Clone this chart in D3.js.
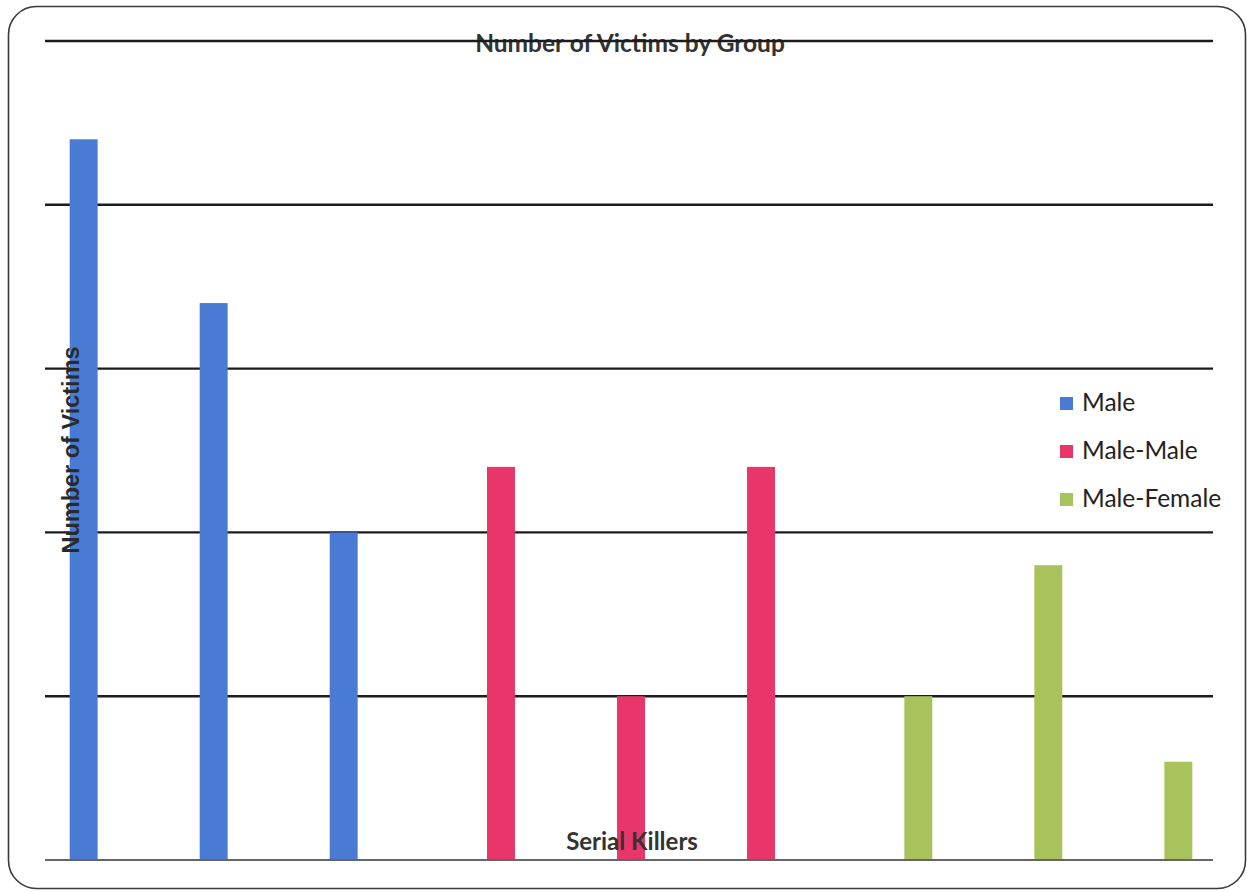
<!DOCTYPE html>
<html>
<head>
<meta charset="utf-8">
<script src="https://cdn.jsdelivr.net/npm/d3@7"></script>
<style>
  html, body { margin: 0; padding: 0; background: #fff; }
  svg { display: block; }
</style>
</head>
<body>
<svg id="chart" width="1247" height="892"></svg>
<script>
// Victim counts per serial killer, grouped by killer type
const groups = ["Male", "Male-Male", "Male-Female"];
const maleVictims = [22, 17, 10];
const maleMaleVictims = [12, 5, 12];
const maleFemaleVictims = [5, 9, 3];
const yTicks = [0, 5, 10, 15, 20, 25];
const groupColors = ["#4a7bd4", "#e8366b", "#a9c35c"];

const seriesValues = [maleVictims, maleMaleVictims, maleFemaleVictims];
const bars = [];
groups.forEach((g, gi) => seriesValues[gi].forEach((v, i) => bars.push({ group: g, idx: i, value: v })));

const svg = d3.select("#chart");

// Rounded frame around the chart
svg.append("rect")
  .attr("x", 8.5).attr("y", 6.5)
  .attr("width", 1237).attr("height", 882)
  .attr("rx", 28).attr("ry", 28)
  .attr("fill", "#fff")
  .attr("stroke", "#3a3a3a").attr("stroke-width", 1.6);

const plotLeft = 45, plotRight = 1213;

const y = d3.scaleLinear().domain([0, 25]).range([860, 41]);

const xGroup = d3.scaleBand().domain(groups).range([5, 1257]).paddingInner(0).paddingOuter(0);
const xInner = d3.scaleBand().domain([0, 1, 2]).range([0, xGroup.bandwidth()])
  .paddingInner(0.785).paddingOuter(0.4975);

// Title (the top gridline runs across it)
svg.append("text")
  .attr("x", 630).attr("y", 52)
  .attr("text-anchor", "middle")
  .attr("font-family", "Lato, 'Open Sans', sans-serif")
  .attr("font-weight", "bold")
  .attr("font-size", 24.5)
  .attr("fill", "#333")
  .text("Number of Victims by Group");

// Horizontal gridlines
svg.append("g")
  .selectAll("line")
  .data(yTicks.filter(t => t > 0))
  .join("line")
  .attr("x1", plotLeft).attr("x2", plotRight)
  .attr("y1", d => y(d)).attr("y2", d => y(d))
  .attr("stroke", "#1c1c1c").attr("stroke-width", 2.4);

// Bars
svg.append("g")
  .selectAll("rect")
  .data(bars)
  .join("rect")
  .attr("x", d => xGroup(d.group) + xInner(d.idx))
  .attr("width", xInner.bandwidth())
  .attr("y", d => y(d.value))
  .attr("height", d => y(0) - y(d.value))
  .attr("fill", d => groupColors[groups.indexOf(d.group)]);

// Category axis baseline
svg.append("line")
  .attr("x1", plotLeft).attr("x2", plotRight)
  .attr("y1", y(0)).attr("y2", y(0))
  .attr("stroke", "#666").attr("stroke-width", 2);

// Axis titles
svg.append("text")
  .attr("x", 632).attr("y", 850)
  .attr("text-anchor", "middle")
  .attr("font-family", "Lato, 'Open Sans', sans-serif")
  .attr("font-weight", "bold")
  .attr("font-size", 24)
  .attr("fill", "#333")
  .text("Serial Killers");

svg.append("text")
  .attr("transform", "translate(79,450) rotate(-90)")
  .attr("text-anchor", "middle")
  .attr("font-family", "'Liberation Sans', Arial, sans-serif")
  .attr("font-weight", "bold")
  .attr("font-size", 23.5)
  .attr("fill", "#2a2a2a")
  .text("Number of Victims");

// Legend
const legend = svg.append("g").attr("transform", "translate(1060,403)");
const item = legend.selectAll("g")
  .data(groups)
  .join("g")
  .attr("transform", (d, i) => `translate(0,${i * 48})`);
item.append("rect")
  .attr("x", 0).attr("y", -6)
  .attr("width", 13).attr("height", 13)
  .attr("fill", (d, i) => groupColors[i]);
item.append("text")
  .attr("x", 22).attr("y", 8)
  .attr("font-family", "Lato, 'Open Sans', sans-serif")
  .attr("font-size", 24.5)
  .attr("fill", "#222")
  .text(d => d);
</script>
</body>
</html>
